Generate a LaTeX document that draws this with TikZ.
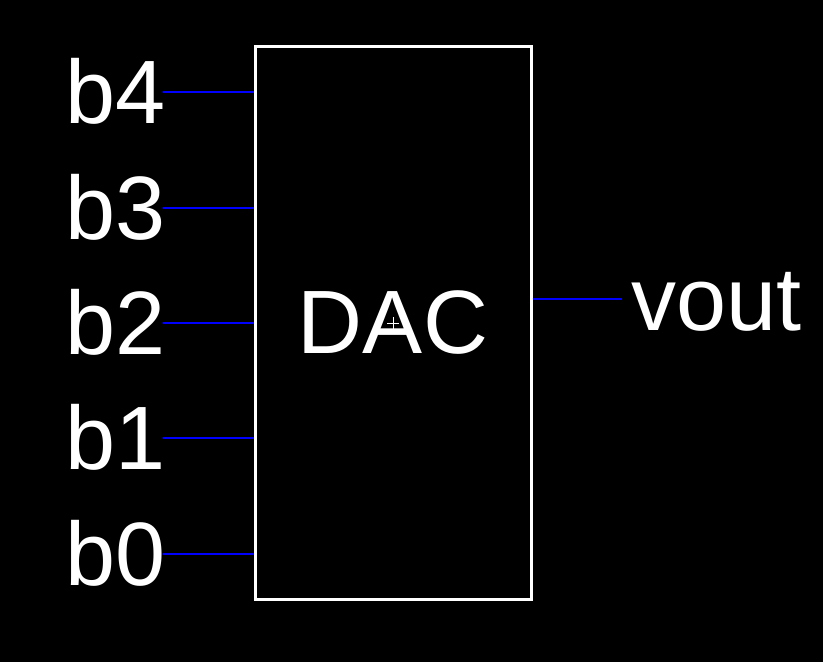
\documentclass[tikz,border=0pt]{standalone}
\usepackage{fontspec}
\setmainfont{Liberation Sans}
\begin{document}
\begin{tikzpicture}[x=1pt,y=-1pt,
  lbl/.style={font=\fontsize{90}{90}\selectfont, text=white, inner sep=0pt},
  wire/.style={draw=blue, line width=1.6pt},
  boxst/.style={draw=white, line width=3pt, minimum width=276pt, minimum height=553pt, inner sep=0pt, font=\fontsize{90}{90}\selectfont, text=white}]
\fill[black] (0,0) rectangle (823,662);
\useasboundingbox (0,0) rectangle (823,662);
\node[boxst] (dac) at (393,322.5) {DAC};
% small origin cross
\draw[white, line width=1pt] (387,323) -- (399,323) (393,317) -- (393,329);
% input labels
\node[lbl, anchor=base east] (b4) at (166,123) {b4};
\node[lbl, anchor=base east] (b3) at (166,239) {b3};
\node[lbl, anchor=base east] (b2) at (166,354) {b2};
\node[lbl, anchor=base east] (b1) at (166,469) {b1};
\node[lbl, anchor=base east] (b0) at (166,585) {b0};
\node[lbl, anchor=base west] (vout) at (631,330) {vout};
% pin coordinates
\coordinate (i4) at (163,92);
\coordinate (i3) at (163,208);
\coordinate (i2) at (163,323);
\coordinate (i1) at (163,438);
\coordinate (i0) at (163,554);
\coordinate (o) at (622,299);
\foreach \n in {4,3,2,1,0}{
  \draw[wire] (i\n) -- (i\n -| dac.west);
}
\draw[wire] (o -| dac.east) -- (o);
\end{tikzpicture}
\end{document}
